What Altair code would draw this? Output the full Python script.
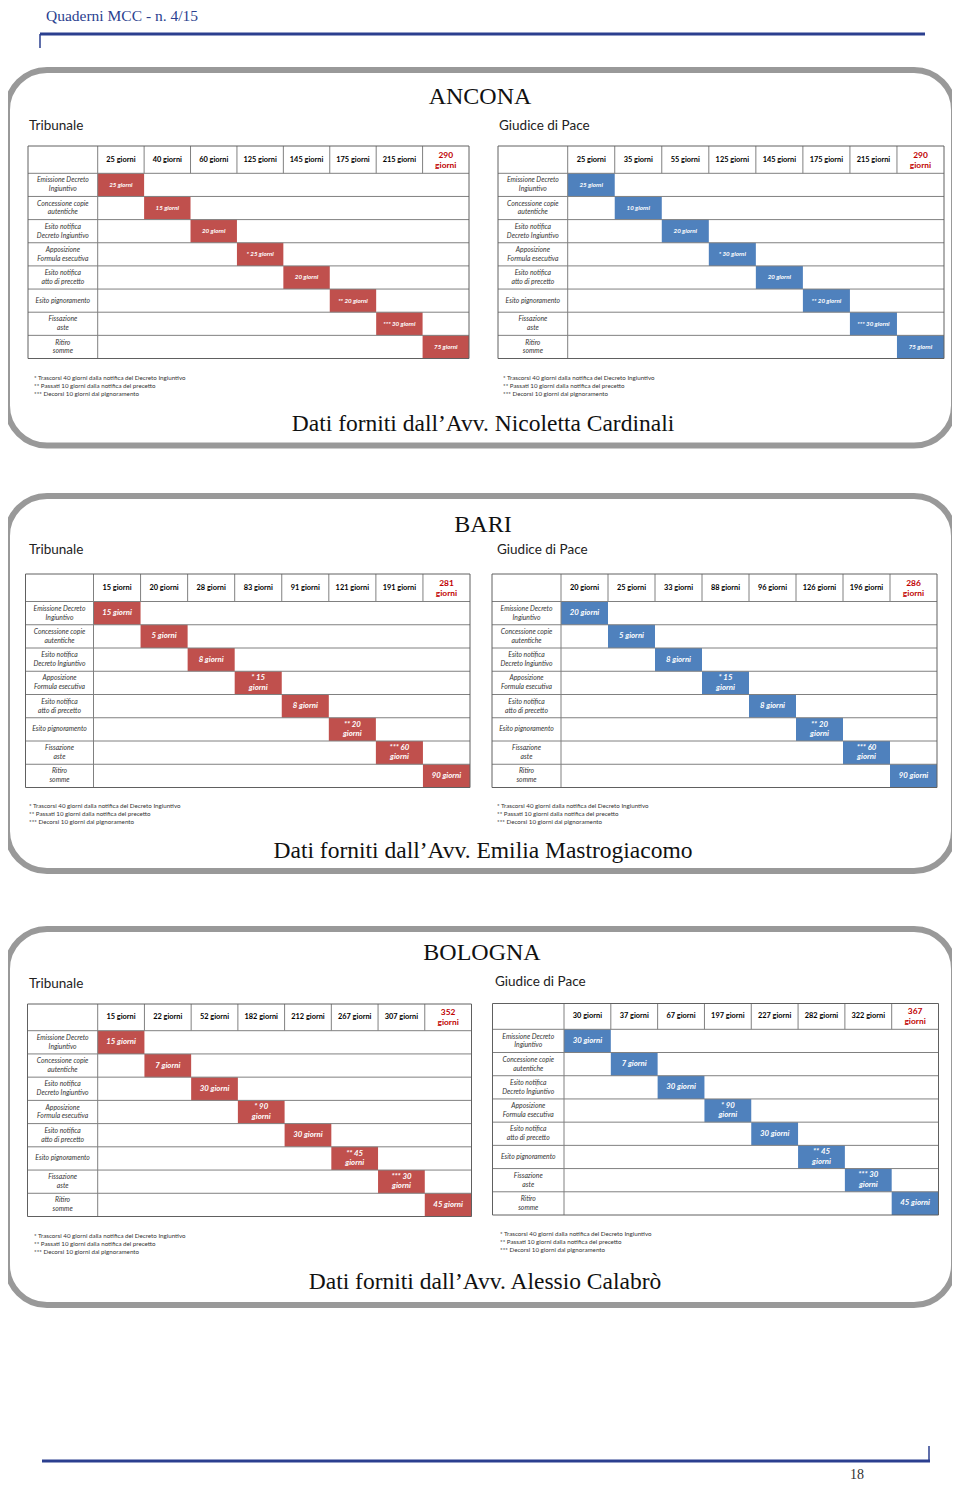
import altair as alt
import pandas as pd

# ---------------- data ----------------
page_header = "Quaderni MCC - n. 4/15"
page_number = "18"
cities = ["ANCONA", "BARI", "BOLOGNA"]
courts = ["Tribunale", "Giudice di Pace"]
sources = [
    "Dati forniti dall\u2019Avv. Nicoletta Cardinali",
    "Dati forniti dall\u2019Avv. Emilia Mastrogiacomo",
    "Dati forniti dall\u2019Avv. Alessio Calabr\u00f2",
]
steps = [
    "Emissione Decreto\nIngiuntivo",
    "Concessione copie\nautentiche",
    "Esito notifica\nDecreto Ingiuntivo",
    "Apposizione\nFormula esecutiva",
    "Esito notifica\natto di precetto",
    "Esito pignoramento",
    "Fissazione\naste",
    "Ritiro\nsomme",
]
step_marks = ["", "", "", "*", "", "**", "***", ""]
footnotes = [
    "* Trascorsi 40 giorni dalla notifica del Decreto Ingiuntivo",
    "** Passati 10 giorni dalla notifica del precetto",
    "*** Decorsi 10 giorni dal pignoramento",
]

# cumulative days (column headers) and duration of each step
ancona_trib_cum = [25, 40, 60, 125, 145, 175, 215, 290]
ancona_trib_dur = [25, 15, 20, 25, 20, 20, 30, 75]
ancona_gdp_cum = [25, 35, 55, 125, 145, 175, 215, 290]
ancona_gdp_dur = [25, 10, 20, 30, 20, 20, 30, 75]
bari_trib_cum = [15, 20, 28, 83, 91, 121, 191, 281]
bari_trib_dur = [15, 5, 8, 15, 8, 20, 60, 90]
bari_gdp_cum = [20, 25, 33, 88, 96, 126, 196, 286]
bari_gdp_dur = [20, 5, 8, 15, 8, 20, 60, 90]
bologna_trib_cum = [15, 22, 52, 182, 212, 267, 307, 352]
bologna_trib_dur = [15, 7, 30, 90, 30, 45, 30, 45]
bologna_gdp_cum = [30, 37, 67, 197, 227, 282, 322, 367]
bologna_gdp_dur = [30, 7, 30, 90, 30, 45, 30, 45]

# ---------------- layout (page pixel coordinates) ----------------
COURT_COLORS = ["#c0504d", "#4f81bd"]
GRID = "#808080"
PANEL = "#999999"
BLUE = "#2b3f8f"
SANS = "Lato"
SERIF = "Liberation Serif"

# city idx, court idx, cum, dur, x0, xlab, x1, y0, yhead, y1, wrap, barfont
tables = [
    (0, 0, ancona_trib_cum, ancona_trib_dur, 28, 97.7, 469, 146, 173.3, 358.5, False, 6),
    (0, 1, ancona_gdp_cum, ancona_gdp_dur, 498, 567.7, 944, 146, 173.3, 358.5, False, 6),
    (1, 0, bari_trib_cum, bari_trib_dur, 25.5, 93.5, 470, 574, 601.5, 787.5, True, 7.8),
    (1, 1, bari_gdp_cum, bari_gdp_dur, 492, 561, 937, 574, 601.5, 787.5, True, 7.8),
    (2, 0, bologna_trib_cum, bologna_trib_dur, 27.5, 97.7, 471.5, 1004, 1030.7, 1216.5, True, 7.8),
    (2, 1, bologna_gdp_cum, bologna_gdp_dur, 492.5, 564, 938.5, 1003.5, 1029.3, 1215, True, 7.8),
]
# panel boxes and text anchors per city
panels = [(7, 954, 70, 445.5), (7, 954, 496, 871), (7, 954, 929, 1305)]
title_pos = [(480, 97), (483, 525), (482, 953)]
court_pos = [[(29, 126), (499, 126)], [(29, 550), (497, 550)], [(29, 984), (495, 982)]]
foot_pos = [[(34, 378), (503, 378)], [(29, 806), (497, 806)], [(34, 1236), (500, 1234)]]
source_pos = [(483, 424), (483, 851), (485, 1282)]

# ---------------- build tables ----------------
bars, grid, boxes, heads, totals, rlabels = [], [], [], [], [], []
blabels = {6: [], 7.8: []}
for ci, co, cum, dur, x0, xl, x1, y0, yh, y1, wrap, bf in tables:
    cw = (x1 - xl) / 8
    rh = (y1 - yh) / 8
    boxes.append(dict(x=x0, x2=x1, y=y0, y2=y1))
    grid.append(dict(x=xl, x2=xl, y=y0, y2=y1))
    for i in range(8):
        grid.append(dict(x=x0, x2=x1, y=yh + i * rh, y2=yh + i * rh))
        if i > 0:
            grid.append(dict(x=xl + i * cw, x2=xl + i * cw, y=y0, y2=yh))
        xa, ya = xl + i * cw, yh + i * rh
        bars.append(dict(x=xa, x2=xa + cw, y=ya, y2=ya + rh, c=COURT_COLORS[co]))
        if i < 7:
            heads.append(dict(x=xa + cw / 2, y=(y0 + yh) / 2, t=f"{cum[i]} giorni"))
        else:
            totals.append(dict(x=xa + cw / 2, y=(y0 + yh) / 2, t=f"{cum[i]}\ngiorni"))
        rlabels.append(dict(x=(x0 + xl) / 2, y=ya + rh / 2, t=steps[i]))
        m = step_marks[i]
        if m and wrap:
            lab = f"{m} {dur[i]}\ngiorni"
        else:
            lab = f"{m} {dur[i]} giorni".strip()
        blabels[bf].append(dict(x=xa + cw / 2, y=ya + rh / 2, t=lab))

panel_df = pd.DataFrame([dict(x=a, x2=b, y=c, y2=d) for a, b, c, d in panels])
titles_df = pd.DataFrame([dict(x=p[0], y=p[1], t=cities[i]) for i, p in enumerate(title_pos)])
courts_df = pd.DataFrame([dict(x=p[0], y=p[1], t=courts[j]) for i in range(3) for j, p in enumerate(court_pos[i])])
foot_df = pd.DataFrame([dict(x=p[0], y=p[1] + k * 8, t=footnotes[k]) for i in range(3) for p in foot_pos[i] for k in range(3)])
source_df = pd.DataFrame([dict(x=p[0], y=p[1], t=sources[i]) for i, p in enumerate(source_pos)])
deco_df = pd.DataFrame([
    dict(x=40, x2=925, y=34, y2=34, w=3),
    dict(x=40, x2=40, y=34, y2=48, w=1.5),
    dict(x=42, x2=930, y=1461, y2=1461, w=3),
    dict(x=929, x2=929, y=1446, y2=1461, w=1.5),
])
head_text_df = pd.DataFrame([dict(x=46, y=9, t=page_header)])
pnum_df = pd.DataFrame([dict(x=850, y=1482, t=page_number)])

xs = alt.Scale(domain=[8, 952], range=[0, 944], nice=False, zero=False)
ys = alt.Scale(domain=[8, 1483], range=[0, 1475], nice=False, zero=False)
X = alt.X("x:Q", scale=xs, axis=None)
Y = alt.Y("y:Q", scale=ys, axis=None)
X2 = alt.X2("x2:Q")
Y2 = alt.Y2("y2:Q")


def txt(rows, lh=None, **kw):
    df = pd.DataFrame(rows).copy()
    if lh is not None:
        # centre multi-line blocks vertically on their anchor
        df["y"] = [y - (t.count("\n")) * lh / 2 for y, t in zip(df["y"], df["t"])]
        kw["lineHeight"] = lh
    return alt.Chart(df).mark_text(lineBreak="\n", **kw).encode(x=X, y=Y, text="t:N")


layers = [
    alt.Chart(panel_df).mark_rect(cornerRadius=40, fill="white", stroke=PANEL, strokeWidth=6).encode(x=X, x2=X2, y=Y, y2=Y2),
    alt.Chart(pd.DataFrame(bars)).mark_rect().encode(x=X, x2=X2, y=Y, y2=Y2, color=alt.Color("c:N", scale=None)),
    alt.Chart(pd.DataFrame(grid)).mark_rule(color=GRID, strokeWidth=1).encode(x=X, x2=X2, y=Y, y2=Y2),
    alt.Chart(pd.DataFrame(boxes)).mark_rect(fillOpacity=0, stroke="#606060", strokeWidth=1).encode(x=X, x2=X2, y=Y, y2=Y2),
    alt.Chart(deco_df).mark_rule(color=BLUE).encode(x=X, x2=X2, y=Y, y2=Y2, strokeWidth=alt.StrokeWidth("w:Q", scale=None)),
    txt(heads, font=SANS, fontSize=7.4, fontWeight="bold", color="#000000"),
    txt(totals, lh=10, font=SANS, fontSize=8.4, fontWeight="bold", color="#c00000"),
    txt(rlabels, lh=8.8, font=SANS, fontSize=6.8, fontStyle="italic", color="#333333"),
    txt(blabels[6], font=SANS, fontSize=6.2, fontStyle="italic", fontWeight="bold", color="white"),
    txt(blabels[7.8], lh=9.5, font=SANS, fontSize=7.8, fontStyle="italic", fontWeight="bold", color="white"),
    txt(titles_df.to_dict("records"), font=SERIF, fontSize=24, color="#111111"),
    txt(courts_df.to_dict("records"), font=SANS, fontSize=13.5, color="#222222", align="left"),
    txt(foot_df.to_dict("records"), font=SANS, fontSize=6.2, color="#333333", align="left"),
    txt(source_df.to_dict("records"), font=SERIF, fontSize=23.5, color="#111111"),
    txt(head_text_df.to_dict("records"), font=SERIF, fontSize=15.5, color=BLUE, align="left", baseline="top"),
    txt(pnum_df.to_dict("records"), font=SERIF, fontSize=14, color="#333333", align="left", baseline="bottom"),
]

chart = (
    alt.layer(*layers)
    .properties(width=944, height=1475, padding=0, autosize=alt.AutoSizeParams(type="none"))
    .configure_view(strokeWidth=0)
)
chart.save("out.html", embed_options={"renderer": "svg", "actions": False})
